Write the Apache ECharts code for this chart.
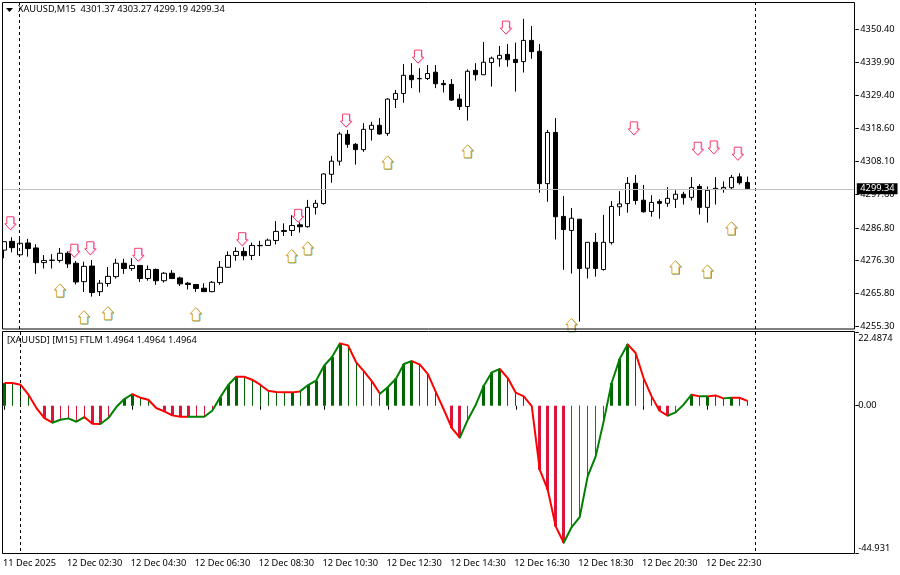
<!DOCTYPE html>
<html><head><meta charset="utf-8">
<style>html,body{margin:0;padding:0;background:#fff}#c{width:900px;height:575px}</style>
<script src="https://cdn.jsdelivr.net/npm/echarts@6/dist/echarts.min.js"></script>
</head><body><div id="c"></div>
<script>
// [open, close, low, high]
const candles = [
[4279.7,4282.4,4277.1,4282.4],[4282.5,4280.5,4279.0,4283.8],[4278.2,4281.9,4278.0,4283.4],[4282.0,4280.2,4277.6,4283.3],
[4280.4,4275.7,4272.1,4281.6],[4275.7,4276.4,4273.8,4278.1],[4276.4,4276.5,4273.8,4278.4],[4276.4,4278.7,4275.7,4280.4],
[4278.7,4275.3,4274.0,4279.3],[4275.5,4269.5,4268.7,4276.2],[4269.6,4274.5,4266.3,4276.0],[4274.6,4266.1,4264.8,4276.5],
[4266.4,4269.1,4265.0,4270.1],[4269.0,4271.3,4268.0,4274.3],[4271.2,4275.5,4270.6,4276.9],[4275.5,4273.8,4272.1,4276.9],
[4273.8,4274.8,4273.1,4277.1],[4274.8,4270.6,4269.5,4274.8],[4270.6,4273.5,4269.9,4274.8],[4273.5,4269.9,4268.6,4273.8],
[4269.9,4272.3,4269.3,4272.7],[4272.3,4270.6,4270.6,4273.3],[4270.8,4268.9,4268.2,4271.2],[4269.1,4268.7,4267.1,4269.5],
[4268.7,4267.4,4266.3,4268.7],[4267.5,4266.4,4266.4,4269.1],[4266.4,4269.4,4266.2,4269.8],[4269.3,4274.2,4268.6,4276.2],
[4274.2,4278.0,4274.1,4279.3],[4278.0,4279.3,4276.3,4280.6],[4279.3,4277.9,4276.5,4280.6],[4278.0,4281.2,4276.5,4282.1],
[4281.1,4281.2,4277.8,4282.7],[4281.2,4282.9,4281.0,4283.4],[4282.8,4285.7,4281.5,4289.0],[4286.0,4285.7,4284.2,4288.3],
[4286.0,4287.6,4284.2,4290.9],[4287.8,4287.2,4285.3,4289.1],[4287.2,4293.4,4286.9,4295.8],[4293.4,4294.7,4291.1,4295.8],
[4294.6,4304.1,4294.3,4304.3],[4304.0,4308.2,4301.3,4309.9],[4308.2,4316.9,4306.8,4317.6],[4316.8,4313.6,4312.5,4318.2],
[4313.6,4311.9,4307.1,4314.0],[4311.9,4318.4,4311.2,4320.4],[4318.4,4319.7,4314.8,4320.8],[4319.7,4316.9,4316.7,4322.0],
[4317.1,4328.1,4316.3,4328.4],[4328.0,4329.9,4325.2,4331.0],[4329.9,4335.7,4326.9,4339.3],[4335.7,4334.3,4331.6,4339.6],
[4334.6,4334.7,4330.2,4338.0],[4334.7,4336.3,4334.2,4339.0],[4336.7,4333.0,4331.6,4339.0],[4333.1,4332.7,4330.2,4334.2],
[4332.8,4327.8,4327.5,4334.5],[4328.1,4325.7,4324.6,4329.7],[4325.7,4337.0,4321.2,4337.6],[4337.3,4335.9,4334.0,4339.6],
[4335.9,4339.9,4335.8,4346.4],[4339.8,4341.2,4332.1,4341.7],[4341.0,4342.1,4338.5,4345.1],[4342.4,4340.7,4338.5,4345.7],
[4340.8,4339.8,4330.5,4346.2],[4340.1,4346.9,4336.6,4353.8],[4346.9,4343.3,4341.0,4351.5],[4343.4,4301.0,4298.1,4345.7],
[4301.0,4317.4,4295.2,4318.2],[4317.4,4290.4,4283.1,4322.0],[4290.5,4286.3,4273.4,4297.0],[4286.0,4289.9,4272.2,4293.2],
[4289.6,4273.8,4256.8,4289.6],[4273.9,4282.2,4270.6,4282.2],[4282.2,4273.8,4271.2,4285.2],[4273.5,4282.2,4273.1,4291.0],
[4282.1,4293.7,4281.5,4295.4],[4293.6,4294.5,4290.7,4298.6],[4294.6,4301.1,4291.7,4303.1],[4301.1,4295.6,4294.3,4303.8],
[4295.7,4292.0,4291.7,4300.6],[4292.1,4295.0,4290.4,4297.3],[4295.3,4294.7,4289.8,4296.0],[4294.7,4296.3,4293.6,4299.9],
[4296.0,4297.6,4293.2,4298.9],[4297.6,4296.5,4294.3,4298.4],[4296.6,4299.8,4295.6,4303.1],[4300.1,4293.4,4291.1,4300.8],
[4293.4,4298.9,4288.5,4300.1],[4299.5,4299.1,4294.3,4303.1],[4299.2,4299.8,4298.1,4301.7],[4299.7,4303.0,4299.2,4303.8],
[4303.2,4301.3,4300.7,4304.3],[4301.37,4299.34,4299.19,4303.27]
];
const downArrows = [[1,4288.3],[9,4279.5],[11,4280.3],[17,4278.2],[30,4283.2],[37,4290.7],[43,4321.2],[52,4341.7],[63,4351.0],[79,4318.7],[87,4312.2],[89,4312.6],[92,4310.6]];
const upArrows = [[7,4266.8],[10,4258.2],[13,4259.5],[24,4259.2],[36,4277.8],[38,4280.3],[48,4307.8],[58,4311.4],[71,4255.7],[84,4274.2],[88,4272.9],[91,4286.7]];
const ftlm = [6.92,6.92,6.41,3.36,-0.71,-3.76,-5.19,-4.27,-3.86,-4.88,-3.46,-5.49,-5.59,-3.76,-0.41,2.03,3.56,2.44,1.83,-0.71,
-1.73,-2.95,-3.36,-3.36,-3.36,-3.36,-1.53,2.54,6.31,8.85,8.85,7.93,6.41,4.58,4.17,4.07,4.07,4.37,6.31,7.63,
12.20,14.85,19.02,18.41,13.32,10.48,7.42,3.66,5.70,8.24,12.71,13.63,12.51,9.66,4.17,-1.22,-6.81,-9.76,-4.27,0.31,
6.10,10.17,11.19,8.44,3.97,2.85,-0.10,-19.53,-25.63,-36.82,-41.80,-37.02,-33.97,-21.56,-15.46,-4.78,6.92,14.24,18.71,16.07,
8.44,2.85,-1.53,-3.05,-2.03,0.31,3.36,2.85,2.85,3.15,2.24,2.44,2.44,1.4964];
const strongBars = [0,5,6,11,12,15,16,20,21,22,23,27,28,29,36,38,39,40,41,42,48,49,50,51,56,57,60,61,62,67,68,69,70,76,77,78,82,83,86,88,91];
const noBars = [4,14,19,55,59,66,85];
// ranges of bar indices over which the FTLM line falls (red); the rest rises (green)
const fallingRuns = [[0,6],[10,12],[16,23],[29,37],[42,47],[51,57],[62,70],[78,83],[86,87],[88,90],[91,93]];
const priceTicks = [4350.40,4339.90,4329.40,4318.60,4308.10,4297.60,4286.80,4276.30,4265.80,4255.30];
const ftlmTicks = [-44.931,0,22.4874];
const tickLabels = ["11 Dec 2025","12 Dec 02:30","12 Dec 04:30","12 Dec 06:30","12 Dec 08:30","12 Dec 10:30","12 Dec 12:30","12 Dec 14:30","12 Dec 16:30","12 Dec 18:30","12 Dec 20:30","12 Dec 22:30"];
const separators = [2,94];
const lastPrice = 4299.34;
const priceTitle = "XAUUSD,M15  4301.37 4303.27 4299.19 4299.34";
const ftlmTitle = "[XAUUSD] [M15] FTLM 1.4964 1.4964 1.4964";

const SLOTS = 107, STEP = 8;
const cats = Array.from({length:SLOTS},(_,i)=> i%STEP===0 && tickLabels[i/STEP] ? tickLabels[i/STEP] : "");
const FONT = "Noto Sans", FS = 9.25;
const down = "path://M2,0 L9,0 L9,7 L11,7 L5.5,13 L0,7 L2,7 Z";
const up = "path://M5.5,0 L11,6 L9,6 L9,13 L2,13 L2,6 L0,6 Z";
const arrow = (name,data,sym,col,off) => ({name,type:'scatter',xAxisIndex:0,yAxisIndex:0,data,symbol:sym,symbolSize:[11,13],symbolOffset:off,
  itemStyle:{color:'#fff',borderColor:col,borderWidth:0.8,opacity:1},silent:true,z:5,clip:true});
const sepSeries = (name,xi,yi,y0,y1) => ({name,type:'custom',xAxisIndex:xi,yAxisIndex:yi,z:4,silent:true,clip:false,
  data:separators.map(s=>[s,y0,y1]),
  encode:{x:0,y:1},
  renderItem:(p,api)=>{
    const a=api.coord([api.value(0),api.value(1)]),b=api.coord([api.value(0),api.value(2)]);
    const x=Math.floor(a[0])+0.5;
    return {type:'line',shape:{x1:x,y1:a[1],x2:x,y2:b[1]+(yi===0?3:-1)},style:{stroke:'#000',lineWidth:1,lineDash:[3,3],fill:null}};
  }});

const chart = echarts.init(document.getElementById('c'),null,{renderer:'canvas'});
const xAxisBase = {type:'category',data:cats,boundaryGap:true,splitLine:{show:false},axisLine:{show:false}};
const PY = 4359.2, PB = 4254.43, FT = 22.4874, FB = -44.931;
chart.setOption({
 animation:false,backgroundColor:'#fff',
 textStyle:{fontFamily:FONT},
 title:[
  {text:priceTitle,left:18,top:4.5,padding:0,textStyle:{fontSize:FS,fontWeight:'normal',color:'#000',fontFamily:FONT}},
  {text:ftlmTitle,left:7,top:335.5,padding:0,textStyle:{fontSize:FS,fontWeight:'normal',color:'#000',fontFamily:FONT}}
 ],
 grid:[{left:-0.7,width:SLOTS*STEP,top:2,height:327},{left:-0.7,width:SLOTS*STEP,top:332,height:221}],
 xAxis:[
  {...xAxisBase,gridIndex:0,axisTick:{show:false},axisLabel:{show:false}},
  {...xAxisBase,gridIndex:1,position:'bottom',offset:1,
   axisTick:{show:true,alignWithLabel:true,length:4,interval:(i)=>i%STEP===0&&i<=88,lineStyle:{color:'#000'}},
   axisLabel:{show:true,interval:(i)=>i%STEP===0&&i<=88,align:'left',margin:5,padding:[0,0,0,-1.5],fontSize:FS,color:'#000',fontFamily:FONT}}
 ],
 yAxis:[
  {type:'value',gridIndex:0,position:'right',min:PB,max:PY,splitLine:{show:false},axisLine:{show:false},
   axisTick:{show:true,length:3.5,customValues:priceTicks,lineStyle:{color:'#000'}},
   axisLabel:{show:true,customValues:priceTicks,margin:5,padding:[2,0,0,0],fontSize:FS,color:'#000',fontFamily:FONT,formatter:v=>v.toFixed(2)}},
  {type:'value',gridIndex:1,position:'right',min:FB,max:FT,splitLine:{show:false},axisLine:{show:false},
   axisTick:{show:true,length:3.5,customValues:ftlmTicks,lineStyle:{color:'#000'}},
   axisLabel:{show:true,customValues:ftlmTicks,margin:3,padding:[2,0,0,0],fontSize:FS,color:'#000',fontFamily:FONT,
    verticalAlignMinLabel:'bottom',verticalAlignMaxLabel:'top',
    formatter:v=>v===0?'0.00':String(v)}}
 ],
 visualMap:[{show:false,type:'piecewise',seriesIndex:5,dimension:0,
   pieces:fallingRuns.map(r=>({gte:r[0],lt:r[1],color:'#ff0000'})),
   outOfRange:{color:'#008000'}}],
 series:[
  {name:'price',type:'candlestick',xAxisIndex:0,yAxisIndex:0,data:candles,barWidth:5,clip:true,z:3,
   itemStyle:{color:'#fff',color0:'#000',borderColor:'#000',borderColor0:'#000',borderWidth:1},
   markLine:{silent:true,symbol:'none',animation:false,precision:2,
     lineStyle:{color:'#c0c0c0',type:'solid',width:1},
     label:{show:true,position:'end',distance:1.5,formatter:p=>p.value.toFixed(2),color:'#fff',backgroundColor:'#000',fontSize:FS,fontFamily:FONT,padding:[1,3,1,3.5]},
     data:[{yAxis:lastPrice}]}},
  sepSeries('separators-top',0,0,PY,PB),
  arrow('down-fringe',downArrows,down,'#f6a4dc',[-0.9,0.5]),
  arrow('down',downArrows,down,'#f0144a',[-1.7,0]),
  arrow('up-fringe',upArrows,up,'#2f9c8c',[0.6,0.4]),
  {name:'ftlm-line',type:'line',xAxisIndex:1,yAxisIndex:1,data:ftlm,showSymbol:false,symbol:'none',smooth:false,z:6,lineStyle:{width:2,join:'round'}},
  {name:'ftlm-hist',type:'custom',xAxisIndex:1,yAxisIndex:1,z:3,silent:true,
   data:ftlm.map((v,i)=>[i,v]).filter(d=>!noBars.includes(d[0])),
   renderItem:(params,api)=>{
     const i=api.value(0),v=api.value(1),p=api.coord([i,v]),z=api.coord([i,0]);
     const w=strongBars.includes(i)?3:1;
     const x=Math.round(p[0]-w/2);
     return {type:'rect',shape:{x,y:Math.min(p[1],z[1]),width:w,height:Math.abs(p[1]-z[1])},
       style:{fill:v>=0?'#006400':'#dc143c'}};
   }},
  sepSeries('separators-bottom',1,1,FT,FB),
  arrow('up',upArrows,up,'#d8960a',[-0.1,0])
 ],
 graphic:[
  {type:'rect',z:100,silent:true,shape:{x:0,y:0,width:2,height:575},style:{fill:'#fff'}},
  {type:'rect',z:101,silent:true,shape:{x:2.5,y:2.5,width:852,height:326.5},style:{fill:'none',stroke:'#000',lineWidth:1}},
  {type:'rect',z:101,silent:true,shape:{x:2.5,y:331.5,width:852,height:222},style:{fill:'none',stroke:'#000',lineWidth:1}},
  {type:'polygon',z:101,silent:true,shape:{points:[[6,8],[13,8],[9.5,12]]},style:{fill:'#000'}}
 ]
});
</script></body></html>
